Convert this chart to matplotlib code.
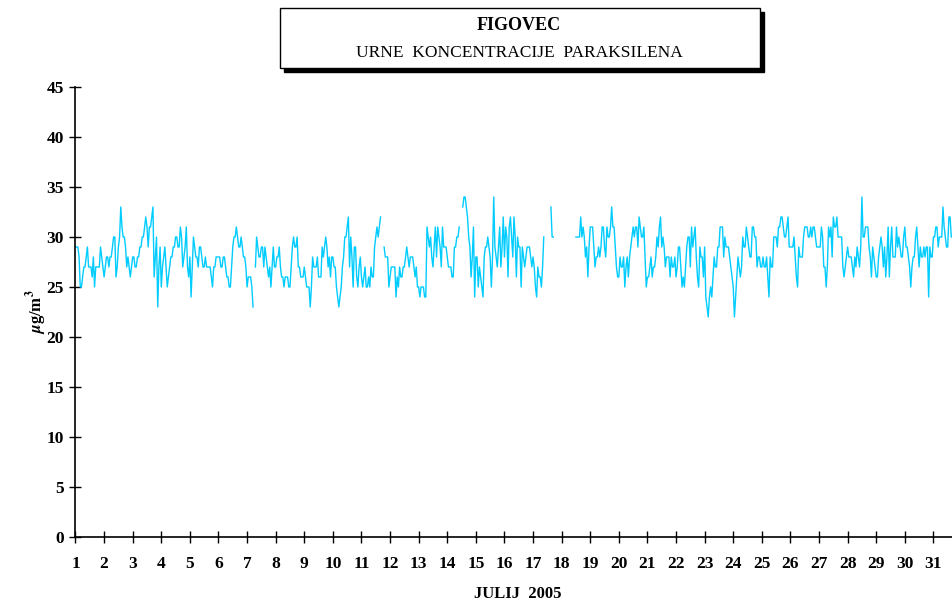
import numpy as np
import matplotlib
matplotlib.use('Agg')
import matplotlib.pyplot as plt
from matplotlib.patches import Rectangle

nan = np.nan

# hourly paraxylene concentrations (ug/m3), July 2005, one list per day
d01 = [29,29,29,28,25,25,26,27,27,28,29,27,27,27,26,28,25,27,27,27,27,29,28,27]
d02 = [26,27,28,28,27,28,28,29,30,30,26,27,29,30,33,31,30,30,29,27,28,27,26,27]
d03 = [28,28,27,27,28,28,29,29,30,30,31,32,31,29,31,31,32,33,26,28,30,23,27,29]
d04 = [25,27,28,29,27,25,26,27,28,28,29,29,30,30,29,29,31,30,27,28,29,31,27,26]
d05 = [28,24,27,30,29,28,28,27,29,29,28,27,27,28,27,27,27,27,26,25,27,27,28,28]
d06 = [28,28,27,27,28,28,27,26,26,25,25,27,29,30,30,31,30,29,29,30,29,28,28,27]
d07 = [25,26,26,26,25,23,nan,27,30,29,28,28,29,29,27,29,28,27,26,27,25,27,29,27]
d08 = [27,28,28,29,27,26,26,25,26,26,26,25,25,27,29,30,29,29,30,27,27,26,26,26]
d09 = [27,26,25,25,25,23,25,28,27,27,27,28,26,26,26,29,28,29,30,29,27,28,26,28]
d10 = [28,27,27,25,24,23,24,25,27,28,30,30,31,32,27,30,28,25,29,29,26,25,27,28]
d11 = [26,25,26,27,25,25,26,25,27,26,26,29,30,31,30,31,32,nan,nan,29,28,28,28,25]
d12 = [26,27,27,27,27,24,26,25,27,26,26,27,27,28,29,28,27,28,28,28,27,26,27,25]
d13 = [25,24,25,25,25,24,24,31,30,29,30,28,27,29,31,28,31,30,29,27,31,29,29,29]
d14 = [28,27,27,27,26,26,29,29,30,30,31,nan,nan,33,34,34,33,32,30,29,26,28,31,24]
d15 = [28,28,25,27,26,25,24,28,29,29,30,29,28,25,28,34,29,28,27,29,31,27,29,32]
d16 = [28,31,30,26,31,32,30,28,32,30,26,30,29,29,25,29,28,27,28,29,29,29,28,27]
d17 = [28,27,25,24,27,26,26,25,27,30,nan,nan,nan,nan,nan,33,30,30,nan,nan,nan,nan,nan,nan]
d18 = [nan,nan,nan,nan,nan,nan,nan,nan,nan,nan,nan,nan,30,30,30,30,32,30,31,30,28,29,26,29]
d19 = [31,31,31,29,27,28,28,29,28,29,31,31,29,28,31,30,30,31,33,31,31,29,27,26]
d20 = [26,28,27,27,28,25,27,28,26,28,29,30,31,30,31,31,29,32,31,30,30,31,28,25]
d21 = [26,26,27,28,26,27,27,28,30,29,31,32,29,30,29,27,28,28,28,26,28,27,27,28]
d22 = [26,27,29,29,27,25,26,25,27,29,30,30,27,31,29,30,31,28,26,25,29,28,28,26]
d23 = [29,24,23,22,24,25,24,26,28,27,27,29,29,31,31,31,28,30,29,29,29,28,27,26]
d24 = [25,22,24,26,28,27,26,27,30,29,29,31,30,29,28,28,31,31,30,30,27,28,28,27]
d25 = [27,28,27,27,28,26,24,28,27,27,30,30,30,29,31,31,32,32,31,30,30,31,32,29]
d26 = [29,29,29,30,28,26,25,29,28,28,28,30,31,31,31,30,30,31,30,31,31,30,29,29]
d27 = [29,29,31,30,27,27,25,27,31,30,31,28,32,31,31,32,30,30,30,30,27,26,27,28]
d28 = [29,28,28,28,27,26,28,27,29,28,27,29,34,30,30,31,31,31,29,28,26,29,28,27]
d29 = [26,26,28,29,30,29,27,29,26,28,31,26,29,31,28,28,28,31,29,30,29,28,28,30]
d30 = [31,29,29,28,27,25,27,28,28,30,31,29,27,29,28,28,29,28,29,29,24,29,28,28]
d31 = [30,30,31,31,29,30,30,30,33,31,30,29,29,32,32,30]

days = [d01, d02, d03, d04, d05, d06, d07, d08, d09, d10, d11, d12, d13, d14, d15, d16,
        d17, d18, d19, d20, d21, d22, d23, d24, d25, d26, d27, d28, d29, d30, d31]
values = np.array([v for d in days for v in d], dtype=float)
hours = 1 + np.arange(len(values)) / 24.0

day_ticks = list(range(1, 32))
y_ticks = list(range(0, 50, 5))

plt.rcParams['font.family'] = ['Liberation Serif', 'DejaVu Serif']
plt.rcParams['font.weight'] = 'bold'
plt.rcParams['mathtext.fontset'] = 'stix'

fig = plt.figure(figsize=(9.52, 6.02), dpi=100)
ax = fig.add_axes([0.0793, 0.108, 0.9207, 0.7475])

ax.plot(hours, values, color='#00CCFF', linewidth=1.0)

ax.set_xlim(1, 31.65)
ax.set_ylim(0, 45)
ax.set_xticks(day_ticks)
ax.set_yticks(y_ticks)
ax.tick_params(direction='inout', length=9, width=1, labelsize=12.5)
ax.tick_params(axis='x', pad=9)
ax.tick_params(axis='y', pad=4)
for lab in ax.get_xticklabels() + ax.get_yticklabels():
    lab.set_fontweight('bold')

for side in ['top', 'right']:
    ax.spines[side].set_visible(False)
for side in ['left', 'bottom']:
    ax.spines[side].set_linewidth(1.2)

ax.set_ylabel('$\\mu$g/m$^3$', fontsize=12, fontweight='bold')
ax.yaxis.set_label_coords(-0.030, 0.5)
fig.text(518 / 952, 1 - 594 / 602, 'JULIJ  2005', ha='center', va='center',
         fontsize=12, fontweight='bold')

# title box with drop shadow
bx, by, bw, bh = 280 / 952, 1 - 68 / 602, 480 / 952, 60 / 602
fig.patches.append(Rectangle((bx + 4 / 952, by - 4 / 602), bw, bh, transform=fig.transFigure,
                             facecolor='black', edgecolor='black', zorder=1))
fig.patches.append(Rectangle((bx, by), bw, bh, transform=fig.transFigure,
                             facecolor='white', edgecolor='black', linewidth=1, zorder=2))
fig.text(519 / 952, 1 - 25 / 602, 'FIGOVEC', ha='center', va='center',
         fontsize=13, fontweight='bold', zorder=3)
fig.text(519 / 952, 1 - 53 / 602, 'URNE  KONCENTRACIJE  PARAKSILENA', ha='center',
         va='center', fontsize=12.5, fontweight='normal', zorder=3)

fig.savefig('out.png', dpi=100)
